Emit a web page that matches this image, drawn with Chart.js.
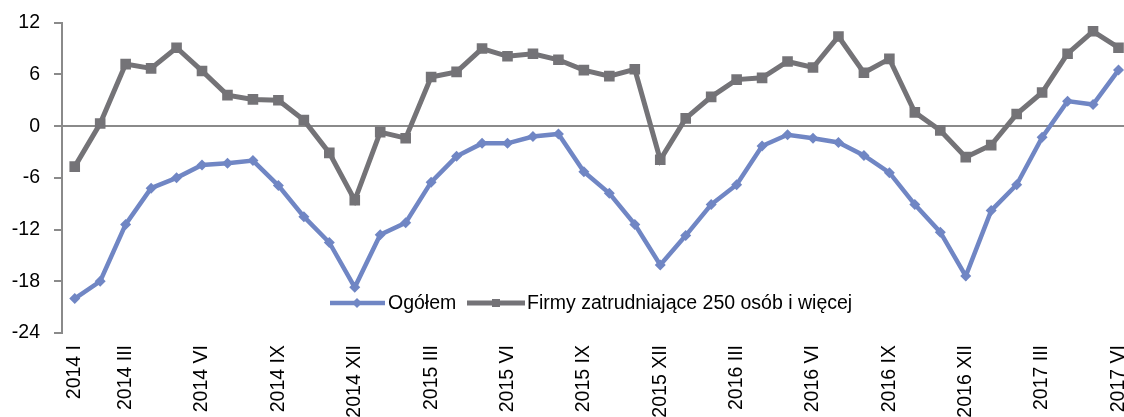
<!DOCTYPE html>
<html>
<head>
<meta charset="utf-8">
<script src="https://cdn.jsdelivr.net/npm/chart.js@4.4.1/dist/chart.umd.min.js"></script>
<style>
    html, body { margin: 0; padding: 0; background: #fff; overflow: hidden; }
    #wrap { width: 1154px; height: 420px; margin-top: -3px; }
</style>
</head>
<body>
<div id="wrap"><canvas id="chart" width="1154" height="420"></canvas></div>
<script>
// --- 1. Data ---
const months = [
    '2014 I', '2014 II', '2014 III', '2014 IV', '2014 V', '2014 VI', '2014 VII', '2014 VIII', '2014 IX', '2014 X', '2014 XI', '2014 XII',
    '2015 I', '2015 II', '2015 III', '2015 IV', '2015 V', '2015 VI', '2015 VII', '2015 VIII', '2015 IX', '2015 X', '2015 XI', '2015 XII',
    '2016 I', '2016 II', '2016 III', '2016 IV', '2016 V', '2016 VI', '2016 VII', '2016 VIII', '2016 IX', '2016 X', '2016 XI', '2016 XII',
    '2017 I', '2017 II', '2017 III', '2017 IV', '2017 V', '2017 VI'
];

// tick labels that are actually printed under the axis
const shownLabels = [
    '2014 I', '2014 III', '2014 VI', '2014 IX', '2014 XII',
    '2015 III', '2015 VI', '2015 IX', '2015 XII',
    '2016 III', '2016 VI', '2016 IX', '2016 XII',
    '2017 III', '2017 VI'
];

const ogolem = [
    -20.0, -18.0, -11.4, -7.2, -6.0, -4.5, -4.3, -4.0, -6.9, -10.5, -13.5, -18.7,
    -12.6, -11.2, -6.5, -3.5, -2.0, -2.0, -1.2, -0.9, -5.3, -7.8, -11.4, -16.1,
    -12.7, -9.1, -6.8, -2.3, -1.0, -1.4, -1.9, -3.4, -5.4, -9.1, -12.3, -17.4,
    -9.8, -6.8, -1.3, 2.9, 2.5, 6.5
];

const firmy250 = [
    -4.7, 0.3, 7.2, 6.7, 9.1, 6.4, 3.6, 3.1, 3.0, 0.7, -3.1, -8.6,
    -0.7, -1.4, 5.7, 6.3, 9.0, 8.1, 8.4, 7.7, 6.5, 5.8, 6.6, -3.9,
    0.9, 3.4, 5.4, 5.6, 7.5, 6.8, 10.4, 6.2, 7.8, 1.6, -0.5, -3.6,
    -2.2, 1.4, 3.9, 8.4, 11.0, 9.1
];

const seriesNames = ['Ogółem', 'Firmy zatrudniające 250 osób i więcej'];

// --- 2. Styles ---
const BLUE = '#7086c4';
const GRAY = '#747377';
const AXIS = '#8a8a8a';
const FONT = "'Liberation Sans', Arial, sans-serif";
const FONT_SIZE = 19.5;

// --- 3. Legend drawn inside the plot ---
const inlineLegend = {
    id: 'inlineLegend',
    afterDatasetsDraw(chart) {
        const ctx = chart.ctx;
        const y = 306; // canvas is shifted up by 3px
        ctx.save();
        ctx.lineCap = 'butt';

        // Ogółem
        ctx.strokeStyle = BLUE;
        ctx.lineWidth = 4.5;
        ctx.beginPath();
        ctx.moveTo(330, y);
        ctx.lineTo(385, y);
        ctx.stroke();
        ctx.fillStyle = BLUE;
        ctx.beginPath();
        ctx.moveTo(357 - 5, y);
        ctx.lineTo(357, y - 5);
        ctx.lineTo(357 + 5, y);
        ctx.lineTo(357, y + 5);
        ctx.closePath();
        ctx.fill();

        // Firmy 250+
        ctx.strokeStyle = GRAY;
        ctx.lineWidth = 5;
        ctx.beginPath();
        ctx.moveTo(467, y);
        ctx.lineTo(525, y);
        ctx.stroke();
        ctx.fillStyle = GRAY;
        ctx.fillRect(496 - 4, y - 4, 8, 8);

        ctx.fillStyle = '#000';
        ctx.font = FONT_SIZE + 'px ' + FONT;
        ctx.textBaseline = 'middle';
        ctx.textAlign = 'left';
        ctx.fillText(seriesNames[0], 388, y + 1);
        ctx.fillText(seriesNames[1], 527, y + 1);
        ctx.restore();
    }
};

// --- 4. Chart ---
const ctx = document.getElementById('chart').getContext('2d');

new Chart(ctx, {
    type: 'line',
    data: {
        labels: months,
        datasets: [
            {
                label: seriesNames[0],
                data: ogolem,
                borderColor: BLUE,
                backgroundColor: BLUE,
                borderWidth: 4.5,
                pointStyle: 'rectRot',
                pointRadius: 5.5,
                pointBorderWidth: 0,
                pointBackgroundColor: BLUE,
                tension: 0
            },
            {
                label: seriesNames[1],
                data: firmy250,
                borderColor: GRAY,
                backgroundColor: GRAY,
                borderWidth: 5,
                pointStyle: 'rect',
                pointRadius: 7.5,
                pointBorderWidth: 0,
                pointBackgroundColor: GRAY,
                tension: 0
            }
        ]
    },
    options: {
        responsive: false,
        animation: false,
        layout: { padding: { top: 10, right: 9, left: 0, bottom: 0 } },
        plugins: {
            legend: { display: false },
            tooltip: { enabled: false }
        },
        scales: {
            x: {
                offset: true,
                border: { display: false },
                grid: { display: false, drawTicks: false },
                ticks: {
                    autoSkip: false,
                    maxRotation: 90,
                    minRotation: 90,
                    padding: 12,
                    color: '#000',
                    font: { family: FONT, size: FONT_SIZE },
                    callback: function (value) {
                        const lbl = this.getLabelForValue(value);
                        return shownLabels.includes(lbl) ? lbl : '';
                    }
                },
                afterFit: (scale) => { scale.height = 84; }
            },
            y: {
                min: -24,
                max: 12,
                border: { display: true, color: AXIS, width: 2 },
                grid: {
                    drawOnChartArea: true,
                    drawTicks: true,
                    tickLength: 8,
                    tickWidth: 2,
                    tickColor: AXIS,
                    lineWidth: 2,
                    color: (c) => (c.tick && c.tick.value === 0 ? AXIS : 'rgba(0,0,0,0)')
                },
                ticks: {
                    stepSize: 6,
                    padding: 14,
                    color: '#000',
                    font: { family: FONT, size: FONT_SIZE }
                },
                afterFit: (scale) => { scale.width = 62; }
            }
        }
    },
    plugins: [inlineLegend]
});
</script>
</body>
</html>
